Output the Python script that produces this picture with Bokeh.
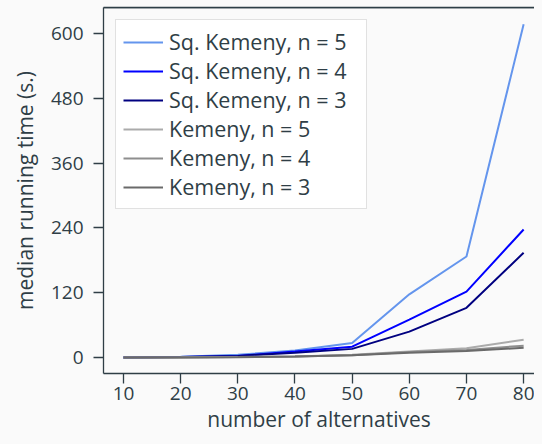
from bokeh.plotting import figure
from bokeh.models import FixedTicker, LinearAxis, Range1d, Legend, LegendItem, Span
from bokeh.embed import file_html
from bokeh.resources import INLINE

# ---- data ----
alternatives = [10, 20, 30, 40, 50, 60, 70, 80]
sq_kemeny_n5 = [0, 1.5, 5, 13, 27, 117, 187, 617]
sq_kemeny_n4 = [0, 1, 3, 11, 20, 70, 122, 237]
sq_kemeny_n3 = [0, 1, 3, 9, 16, 48, 92, 194]
kemeny_n5 = [0, 0.3, 1, 2, 5, 11, 17, 33]
kemeny_n4 = [0, 0.2, 0.8, 2, 4, 10, 14, 22]
kemeny_n3 = [0, 0.2, 0.7, 2, 4, 9, 12, 18]

labels = ["Sq. Kemeny, n = 5", "Sq. Kemeny, n = 4", "Sq. Kemeny, n = 3",
          "Kemeny, n = 5", "Kemeny, n = 4", "Kemeny, n = 3"]
x_ticks = [10, 20, 30, 40, 50, 60, 70, 80]
y_ticks = [0, 120, 240, 360, 480, 600]

series = [sq_kemeny_n5, sq_kemeny_n4, sq_kemeny_n3, kemeny_n5, kemeny_n4, kemeny_n3]
colors = ["#6495ED", "#0000FF", "#000080", "#ABABAB", "#8E8E8E", "#6A6A6A"]

FONT = "Open Sans"
TXT = "#2f3e46"
BG = "#fafafa"
Y_TOP = 648.1

p = figure(width=534, height=436, output_backend="svg", toolbar_location=None,
           x_range=Range1d(6.5, 81.9), y_range=Range1d(-29.6, Y_TOP),
           min_border_left=103, min_border_top=7, min_border_right=0,
           min_border_bottom=63)
p.background_fill_color = BG
p.border_fill_color = BG
p.outline_line_color = None
p.grid.visible = False

renderers = []
for ys, c in zip(series, colors):
    r = p.line(alternatives, ys, line_color=c, line_width=2)
    renderers.append(r)

for ax in (p.xaxis[0], p.yaxis[0]):
    ax.axis_line_color = TXT
    ax.axis_line_width = 1.3
    ax.major_tick_line_color = TXT
    ax.major_tick_line_width = 1.3
    ax.major_tick_out = 10
    ax.major_tick_in = 0
    ax.minor_tick_line_color = None
    ax.major_label_text_font = FONT
    ax.major_label_text_font_size = "19px"
    ax.major_label_text_color = TXT
    ax.axis_label_text_font = FONT
    ax.axis_label_text_font_size = "21px"
    ax.axis_label_text_font_style = "normal"
    ax.axis_label_text_color = TXT

p.xaxis[0].ticker = FixedTicker(ticks=x_ticks)
p.yaxis[0].ticker = FixedTicker(ticks=y_ticks)
p.xaxis[0].axis_label = "number of alternatives"
p.yaxis[0].axis_label = "median running time (s.)"
p.xaxis[0].major_label_standoff = 3
p.xaxis[0].axis_label_standoff = 2
p.yaxis[0].major_label_standoff = 10
p.yaxis[0].axis_label_standoff = 9

top = LinearAxis(ticker=FixedTicker(ticks=[]), major_label_text_font_size="0px",
                 major_label_standoff=0, major_tick_out=0, major_tick_in=0,
                 axis_line_color=TXT, axis_line_width=1.3,
                 major_tick_line_color=None, minor_tick_line_color=None)
p.add_layout(top, "above")
p.add_layout(Span(location=Y_TOP, dimension="width", line_color=TXT, line_width=1.3))

legend = Legend(items=[LegendItem(label=l, renderers=[r]) for l, r in zip(labels, renderers)],
                location="top_left")
legend.margin = 12
legend.padding = 7
legend.spacing = 0
legend.glyph_width = 40
legend.glyph_height = 20
legend.label_height = 20
legend.label_width = 190
legend.label_standoff = 6
legend.label_text_font = FONT
legend.label_text_font_size = "21.5px"
legend.label_text_color = TXT
legend.border_line_color = "#c4c4c4"
legend.border_line_width = 1.5
legend.background_fill_color = "white"
legend.background_fill_alpha = 1
p.add_layout(legend, "center")

html = file_html(p, INLINE)
html = html.replace("<head>", "<head><style>html,body{background:#fafafa;}</style>", 1)
open("out.html", "w").write(html)
